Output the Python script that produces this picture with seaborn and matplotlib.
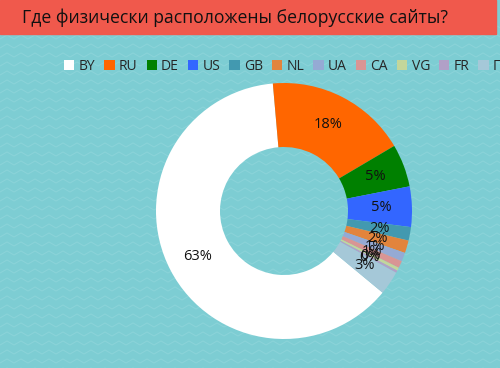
import numpy as np
import seaborn as sns
import matplotlib.pyplot as plt
from matplotlib.patches import Rectangle

# данные
countries = ['BY', 'RU', 'DE', 'US', 'GB', 'NL', 'UA', 'CA', 'VG', 'FR', 'Прочие']
shares = [62.6, 17.9, 5.4, 5.1, 1.7, 1.6, 1.1, 0.9, 0.4, 0.3, 3.0]
colors = ['#ffffff', '#ff6600', '#008000', '#3366ff', '#4299b0', '#e2843c',
          '#95aad4', '#d99594', '#c3d69b', '#b1a0c7', '#a5c8d8']
title = 'Где физически расположены белорусские сайты?'

sns.set_theme(style='white')
plt.rcParams['font.family'] = ['Open Sans', 'DejaVu Sans']

W, H = 500, 368
fig = plt.figure(figsize=(W / 100, H / 100), dpi=100)
bg_color = '#7dcdd3'
fig.patch.set_facecolor(bg_color)

# фон с зигзагом
bg = fig.add_axes([0, 0, 1, 1])
bg.set_xlim(0, W)
bg.set_ylim(H, 0)
bg.axis('off')
xs = np.arange(0, W + 14, 7)
zig = np.where((np.arange(len(xs)) % 2) == 0, 0, 4)
for y0 in np.arange(30, H + 10, 9):
    bg.plot(xs, y0 - zig, color='#93d7dc', lw=0.8, alpha=0.6)

# заголовок
bg.add_patch(Rectangle((0, 0), 496, 34, color='#f0594c', zorder=3))
bg.text(22, 18, title, fontsize=12.7, color='#111111', va='center', ha='left', zorder=4)

# бублик
cx, cy, r = 284, 211, 128
ax = fig.add_axes([(cx - r) / W, (H - cy - r) / H, 2 * r / W, 2 * r / H])
start = 95 + shares[0] / sum(shares) * 360
wedges, texts, autotexts = ax.pie(
    shares, colors=colors, startangle=start, counterclock=False,
    autopct='%1.0f%%', pctdistance=0.76,
    wedgeprops=dict(width=0.5, edgecolor='none'),
    textprops=dict(fontsize=10.5, color='#111111'))
ax.set_xlim(-1, 1)
ax.set_ylim(-1, 1)
ax.set_aspect('equal')

# легенда
leg = fig.legend(wedges, countries, loc='center left', bbox_to_anchor=(0.117, 0.82),
                 ncol=len(countries), frameon=False, fontsize=10,
                 handlelength=0.75, handleheight=0.75, handletextpad=0.3,
                 columnspacing=0.65, borderaxespad=0)
for h in leg.legend_handles:
    h.set_edgecolor('none')

fig.savefig('out.png', dpi=100, facecolor=fig.get_facecolor())
